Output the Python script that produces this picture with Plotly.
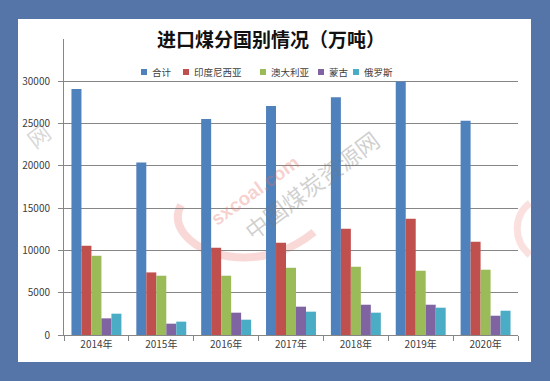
import plotly.graph_objects as go

years = ["2014年", "2015年", "2016年", "2017年", "2018年", "2019年", "2020年"]
total = [29100, 20400, 25550, 27090, 28120, 29970, 25320]
indonesia = [10550, 7400, 10320, 10900, 12560, 13740, 11020]
australia = [9370, 7010, 7010, 7950, 8070, 7600, 7720]
mongolia = [1970, 1340, 2640, 3350, 3580, 3580, 2280]
russia = [2520, 1580, 1810, 2760, 2640, 3230, 2870]

series_names = ["合计", "印度尼西亚", "澳大利亚", "蒙古", "俄罗斯"]
series_values = [total, indonesia, australia, mongolia, russia]
colors = ["#4F81BD", "#C0504D", "#9BBB59", "#8064A2", "#4BACC6"]
y_ticks = [0, 5000, 10000, 15000, 20000, 25000, 30000]

W, H = 550, 381
ML, MR, MT, MB = 64, 32, 39, 46
FONT = "Noto Sans CJK SC"
pw, ph = W - ML - MR, H - MT - MB

fig = go.Figure()
for name, vals, c in zip(series_names, series_values, colors):
    fig.add_trace(go.Bar(x=years, y=vals, name=name, showlegend=False,
                         marker=dict(color=c, line=dict(width=0))))


def px_shape(**kw):
    base = dict(xref="paper", yref="paper", xsizemode="pixel", ysizemode="pixel",
                xanchor=0, yanchor=0)
    base.update(kw)
    return base


def rx(p):
    return p - ML


def ry(p):
    return (H - MB) - p


def ax(p):
    return (p - ML) / pw


def ay(p):
    return ((H - MB) - p) / ph


shapes = [
    px_shape(type="rect", x0=rx(18), x1=rx(531), y0=ry(362), y1=ry(19),
             fillcolor="white", line=dict(width=0), layer="below"),
    px_shape(type="path",
             path=f"M {rx(181)},{ry(205)} C {rx(160)},{ry(245)} {rx(250)},{ry(285)} {rx(314)},{ry(232)}",
             line=dict(color="rgba(232,120,110,0.28)", width=8), layer="below"),
    px_shape(type="path",
             path=f"M {rx(530)},{ry(203)} C {rx(514)},{ry(215)} {rx(512)},{ry(240)} {rx(530)},{ry(255)}",
             line=dict(color="rgba(232,120,110,0.22)", width=7), layer="below"),
]

annotations = [
    dict(text="中国煤炭资源网", x=ax(311), y=ay(185), xref="paper", yref="paper",
         xanchor="center", yanchor="middle", showarrow=False, textangle=-37,
         font=dict(family=FONT, size=23, color="rgba(120,120,120,0.35)")),
    dict(text="<b>sxcoal.com</b>", x=ax(255), y=ay(190), xref="paper", yref="paper",
         xanchor="center", yanchor="middle", showarrow=False, textangle=-36,
         font=dict(family="Liberation Sans", size=19, color="rgba(230,110,100,0.32)")),
    dict(text="网", x=ax(38), y=ay(135), xref="paper", yref="paper",
         xanchor="center", yanchor="middle", showarrow=False, textangle=-37,
         font=dict(family=FONT, size=22, color="rgba(120,120,120,0.30)")),
]

# legend drawn as small squares + labels
legend_text_x = [150, 192, 269, 327, 362]
legend_y = 72
for name, c, tx in zip(series_names, colors, legend_text_x):
    shapes.append(px_shape(type="rect", x0=rx(tx - 9), x1=rx(tx - 3),
                           y0=ry(legend_y + 3), y1=ry(legend_y - 3),
                           fillcolor=c, line=dict(width=0)))
    annotations.append(dict(text=name, x=ax(tx), y=ay(legend_y), xref="paper", yref="paper",
                            xanchor="left", yanchor="middle", showarrow=False,
                            font=dict(family=FONT, size=9.5, color="#404040")))

fig.update_layout(
    width=W, height=H,
    margin=dict(l=ML, r=MR, t=MT, b=MB, pad=0),
    paper_bgcolor="#5574A7",
    plot_bgcolor="rgba(0,0,0,0)",
    barmode="group",
    bargap=0.23,
    bargroupgap=0,
    font=dict(family=FONT, size=10, color="#404040"),
    title=dict(text="<b>进口煤分国别情况（万吨）</b>", x=271 / W, xanchor="center",
               y=1 - 40 / H, yanchor="middle",
               font=dict(family=FONT, size=19, color="#111111")),
    showlegend=False,
    xaxis=dict(type="category", showline=True, linecolor="#868686", linewidth=1,
               ticks="outside", tickson="boundaries", ticklen=5, tickcolor="#868686",
               showgrid=False, tickfont=dict(family=FONT, size=10, color="#404040")),
    yaxis=dict(range=[0, 35000], tickvals=y_ticks, ticktext=[str(v) for v in y_ticks],
               showline=True, linecolor="#868686", linewidth=1,
               ticks="outside", ticklen=5, tickcolor="#868686",
               showgrid=True, gridcolor="#868686", gridwidth=1, zeroline=False,
               tickfont=dict(family=FONT, size=10, color="#404040"), ticklabelstandoff=6),
    shapes=shapes,
    annotations=annotations,
)

fig.write_html("out.html", config={"displayModeBar": False},
               post_script="document.body.style.margin='0';document.body.style.padding='0';")
